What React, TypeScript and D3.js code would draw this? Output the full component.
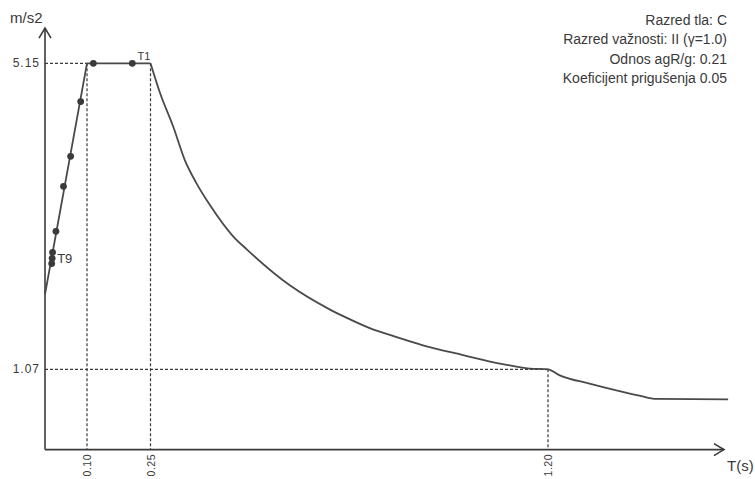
import * as d3 from "d3";
import React from "react";

// spectrum curve (T in s, Se in m/s2)
const risePeriods = [0, 0.1, 0.25];
const riseAccel = [2.07, 5.15, 5.15];
const decayPeriods = [0.25, 0.273, 0.304, 0.332, 0.36, 0.392, 0.448, 0.48, 0.583, 0.678, 0.718, 0.774, 0.838, 0.901, 0.997, 1.092, 1.156, 1.2, 1.228, 1.299, 1.363, 1.418, 1.458, 1.63];
const decayAccel = [5.15, 4.75, 4.31, 3.86, 3.55, 3.26, 2.84, 2.67, 2.19, 1.87, 1.76, 1.62, 1.5, 1.39, 1.26, 1.14, 1.08, 1.07, 0.99, 0.88, 0.79, 0.72, 0.675, 0.67];

// marked points (T1 .. T9)
const dotT = [0.207, 0.115, 0.085, 0.061, 0.044, 0.026, 0.018, 0.017, 0.016];
const dotSe = [5.15, 5.15, 4.64, 3.91, 3.51, 2.91, 2.63, 2.55, 2.48];

const xTicks = [0.1, 0.25, 1.2];
const xTickLabels = ["0.10", "0.25", "1.20"];
const yTicks = [5.15, 1.07];
const yTickLabels = ["5.15", "1.07"];

const infoLines = [
  "Razred tla: C",
  "Razred važnosti: II (γ=1.0)",
  "Odnos agR/g: 0.21",
  "Koeficijent prigušenja 0.05",
];

const width = 755;
const height = 479;
const ink = "#3a3a3a";
const font = "'Liberation Sans', Arial, sans-serif";

export default function App() {
  // the x axis of the original is not quite linear, so a piecewise scale
  const x = d3.scaleLinear().domain([0, 0.1, 0.25, 1.2, 1.65]).range([45, 87, 150.5, 548, 736.5]);
  const y = d3.scaleLinear().domain([0, 5.15]).range([449.6, 63.3]);

  const rise: [number, number][] = risePeriods.map((t, i) => [t, riseAccel[i]]);
  const decay: [number, number][] = decayPeriods.map((t, i) => [t, decayAccel[i]]);
  const straight = d3.line<[number, number]>().x((d) => x(d[0])).y((d) => y(d[1]));
  const smooth = d3
    .line<[number, number]>()
    .x((d) => x(d[0]))
    .y((d) => y(d[1]))
    .curve(d3.curveMonotoneX);

  const x0 = x(0);
  const y0 = y(0);
  const xEnd = x(1.62);
  const yTop = y(5.62);

  return (
    <div style={{ position: "absolute", left: 0, top: 0 }}>
      <svg width={width} height={height} style={{ display: "block", background: "#fff" }}>
        {/* dashed guide lines */}
        <g stroke={ink} strokeWidth={1.2} strokeDasharray="3,2" fill="none">
          <line x1={x0} y1={y(5.15)} x2={x(0.1)} y2={y(5.15)} />
          <line x1={x(0.1)} y1={y(5.15)} x2={x(0.1)} y2={y0} />
          <line x1={x(0.25)} y1={y(5.15)} x2={x(0.25)} y2={y0} />
          <line x1={x0} y1={y(1.07)} x2={x(1.2)} y2={y(1.07)} />
          <line x1={x(1.2)} y1={y(1.07)} x2={x(1.2)} y2={y0} />
        </g>

        {/* axes */}
        <g stroke={ink} strokeWidth={1.6} fill="none">
          <line x1={x0} y1={y0} x2={x0} y2={yTop} />
          <line x1={x0} y1={y0} x2={xEnd} y2={y0} />
          <polyline points={`${x0 - 6},${yTop + 10} ${x0},${yTop} ${x0 + 6},${yTop + 10}`} />
          <polyline points={`${xEnd - 10},${y0 - 6} ${xEnd},${y0} ${xEnd - 10},${y0 + 6}`} />
        </g>

        {/* spectrum */}
        <g fill="none" stroke="#4a4a4a" strokeWidth={1.8} strokeLinejoin="round">
          <path d={straight(rise) ?? ""} />
          <path d={smooth(decay) ?? ""} />
        </g>

        {dotT.map((t, i) => (
          <circle key={i} cx={x(t)} cy={y(dotSe[i])} r={3.4} fill={ink} />
        ))}

        <g fontFamily={font} fill={ink}>
          <text x={x(0.25) - 13} y={y(5.15) - 3} fontSize={11}>T1</text>
          <text x={x(0.017) + 5} y={y(2.55) + 5} fontSize={13}>T9</text>

          <text x={10} y={23} fontSize={15}>m/s2</text>
          <text x={727} y={471} fontSize={15}>T(s)</text>

          {yTicks.map((v, i) => (
            <text key={v} x={40} y={y(v) + 4} fontSize={12} letterSpacing={1} textAnchor="end">
              {yTickLabels[i]}
            </text>
          ))}

          {xTicks.map((v, i) => (
            <text
              key={v}
              transform={`translate(${x(v) + 4},454) rotate(-90)`}
              fontSize={10.5}
              letterSpacing={0.5}
              textAnchor="end"
            >
              {xTickLabels[i]}
            </text>
          ))}

          {infoLines.map((s, i) => (
            <text key={s} x={727} y={25 + i * 19.4} fontSize={14} textAnchor="end">
              {s}
            </text>
          ))}
        </g>
      </svg>
    </div>
  );
}
